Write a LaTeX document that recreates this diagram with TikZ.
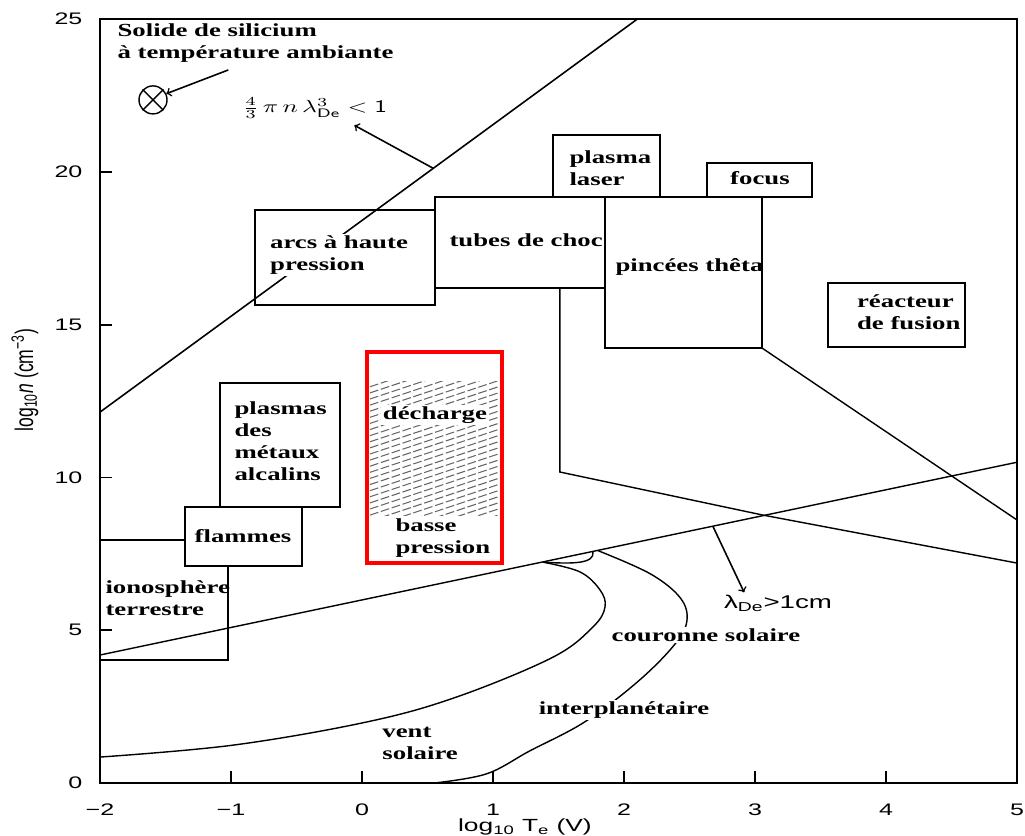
\documentclass[tikz,border=0pt]{standalone}
\usepackage{fontspec}
\usepackage{amsmath}
\usepackage{graphicx}
\usetikzlibrary{calc}
\newfontfamily\lblfont[FakeStretch=1.45]{Liberation Serif}
\newfontfamily\axfont[FakeStretch=1.5]{Liberation Sans}
\newfontfamily\axfontup{Liberation Sans}

\begin{document}
\begin{tikzpicture}[
		x=2.62cm, y=0.611cm,
		line width=0.9pt,
		>=to,
		lbl/.style={font=\lblfont\bfseries\fontsize{10.5}{12.5}\selectfont, inner sep=1pt, align=left},
		lblw/.style={lbl, fill=white},
		ticklbl/.style={font=\axfont\fontsize{9.5}{11}\selectfont, inner sep=1pt},
		region/.style={draw, line width=0.8pt},
		curve/.style={line width=0.8pt},
		framebox/.style={draw=red, line width=2.2pt},
		hatchline/.style={line width=0.6pt, black!60, dash pattern=on 5pt off 1.5pt}
		]
		\useasboundingbox (-2.763,-1.702) rectangle (5.061,25.63);
		\draw (-2,0) rectangle (5,25);
		\foreach \x in {-1,...,4}
			\draw (\x,0) -- ++(0,0.24cm);
		\foreach \y in {5,10,15,20}
			\draw (-2,\y) -- ++(0.24cm,0);
		\foreach \y in {0,5,...,25}
			\node[ticklbl, anchor=east, xshift=-0.3cm] (yt\y) at (-2,\y) {\y};
		\foreach \x/\t in {-2/−2,-1/−1,0/0,1/1,2/2,3/3,4/4,5/5}
			\node[ticklbl] (xt\x) at (\x,-0.88) {\t};
		\node[font=\axfont\fontsize{10}{12}\selectfont] (xlab) at (1.244,-1.45) {log\textsubscript{10} T\textsubscript{e} (V)};
		\node[rotate=90] (ylab) at (-2.573,13.19) {\scalebox{1}[1.45]{\axfontup\fontsize{10}{12}\selectfont log\textsubscript{10}\textit{n} (cm\textsuperscript{−3})}};
		
		\draw (-2,12.14) -- (2.1,25);
		\coordinate (critpt) at (0.54,20.13);
		\node (crit) at (-0.36,22.09) {\scalebox{1.45}[1]{$\frac{4}{3}\,\pi\,n\,\lambda^{3}_{\mathsf{De}}<\mathsf{1}$}};
		\draw[->] (critpt) -- ($(crit.south)!0.5!(crit.south east)$);
		
		\node[circle, draw, minimum size=0.56cm, inner sep=0pt, line width=0.8pt] (si) at (-1.595,22.36) {};
		\draw[line width=0.8pt] (si.north west) -- (si.south east);
		\draw[line width=0.8pt] (si.north east) -- (si.south west);
		\node[lbl, anchor=north west] (sil) at (-1.885,24.95) {Solide de silicium\\ à température ambiante};
		\coordinate (siltail) at (-1.02,23.34);
		\draw[->] (siltail) -- (si.25);
		
		\draw[region] (-0.817,15.65) rectangle (0.557,18.76);
		\draw[region] (0.557,16.2) rectangle (1.855,19.18);
		\draw[region] (1.458,19.18) rectangle (2.275,21.21);
		\draw[region] (2.634,19.18) rectangle (3.435,20.29);
		\draw[region] (1.855,14.24) rectangle (3.053,19.18);
		\draw[region] (3.557,14.27) rectangle (4.603,16.37);
		\draw[curve] (1.511,16.2) -- (1.511,10.18) -- (3.061,8.77) -- (5,7.2);
		\draw[curve] (3.053,14.24) -- (5,8.61);
		
		\draw[curve] (-2,4.19) -- (5,10.5);
		\coordinate (lampt) at (2.679,8.4);
		\node[font=\axfont\fontsize{10.5}{12}\selectfont, inner sep=1pt] (lam) at (3.176,5.89) {λ\textsubscript{De}>1cm};
		\draw[->] (lampt) -- ($(lam.north west)!0.2!(lam.north east)$);
		
		\draw[region] (-1.084,9.03) rectangle (-0.168,13.09);
		\draw[region] (-1.351,7.10) rectangle (-0.458,9.03);
		\draw[curve] (-2,7.95) -- (-1.351,7.95);
		\draw[curve] (-1.023,7.10) -- (-1.023,4.03) -- (-2,4.03);
		
		\begin{scope}
			\clip (0.061,8.77) rectangle (1.053,13.13);
			\foreach \k in {-8,...,24}
				\draw[hatchline] (0.061,8.77) ++(0,\k*0.2) -- ++(3cm,1cm);
		\end{scope}
		\draw[framebox] (0.038,7.2) rectangle (1.069,14.11);
		
		\draw[curve] plot[smooth, tension=0.6] coordinates {(-2,0.85) (-0.985,1.24) (0.038,2.0) (0.725,2.82) (1.458,4.12) (1.763,5.11) (1.855,5.76) (1.817,6.32) (1.664,6.91) (1.382,7.23)};
		\draw[curve] (1.382,7.23) .. controls (1.6,7.17) and (1.78,7.17) .. (1.763,7.57);
		\draw[curve] plot[smooth, tension=0.6] coordinates {(1.80,7.61) (2.2,6.85) (2.43,6.06) (2.48,5.3) (2.38,4.5) (2.1,3.3) (1.70,2.0) (1.28,1.05) (0.95,0.3) (0.55,0)};
		
		\node[lblw, anchor=west] (arcs) at (-0.72,17.28) {arcs à haute\\pression};
		\node[lbl, anchor=west] (tubes) at (0.649,17.77) {tubes de choc};
		\node[lbl, anchor=west] (laser) at (1.565,20.13) {plasma\\laser};
		\node[lbl] (focus) at (3.038,19.80) {focus};
		\node[lbl, anchor=west] (theta) at (1.916,16.89) {pincées thêta};
		\node[lbl, anchor=west] (fusion) at (3.76,15.42) {réacteur\\de fusion};
		\node[lbl, anchor=west] (alcalins) at (-0.992,11.19) {plasmas\\des\\métaux\\alcalins};
		\node[lbl] (flammes) at (-0.908,8.09) {flammes};
		\node[lbl, anchor=west] (iono) at (-1.977,6.06) {ionosphère\\terrestre};
		\node[lblw] (decharge) at (0.557,12.05) {décharge};
		\node[lbl, anchor=west] (basse) at (0.237,8.02) {basse\\pression};
		\node[lblw] (couronne) at (2.626,4.84) {couronne solaire};
		\node[lblw] (interp) at (2.0,2.39) {interplanétaire};
		\node[lbl, anchor=west] (vent) at (0.137,1.31) {vent\\solaire};
\end{tikzpicture}
\end{document}
